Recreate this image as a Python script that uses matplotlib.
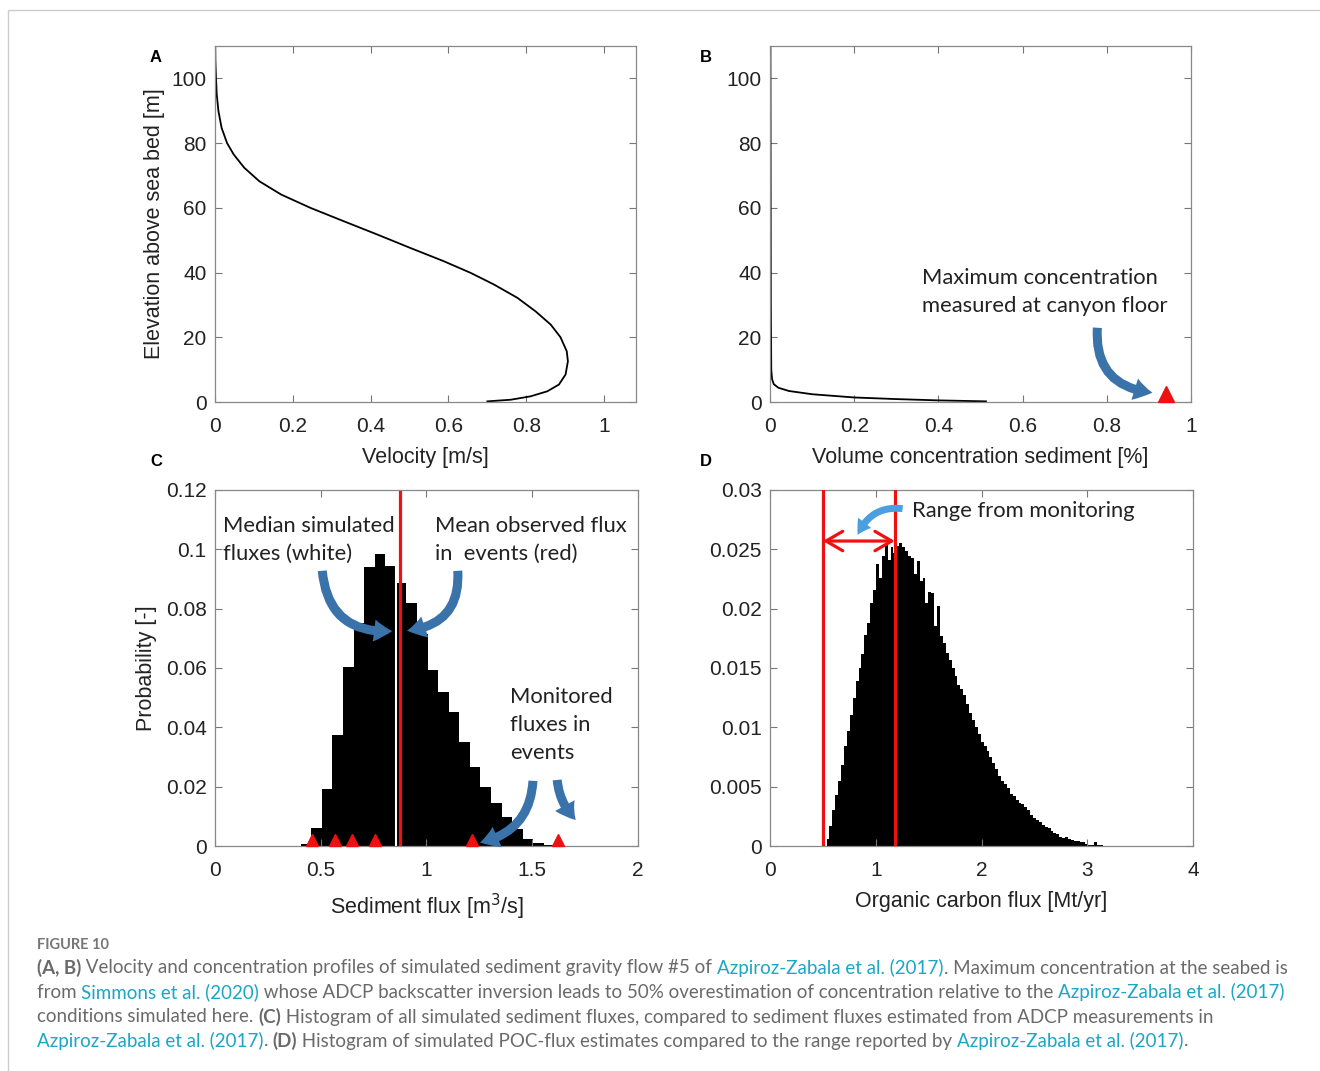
"""Figure 10 redraw: velocity / concentration profiles and flux histograms."""
import numpy as np
import matplotlib
matplotlib.use('Agg')
import matplotlib.pyplot as plt
from matplotlib.patches import FancyArrowPatch, Rectangle
from matplotlib.text import Annotation

# ---- data ----
# (A) velocity profile
elev_a = [0.2, 0.7, 1.75, 3.3, 5.4, 8.5, 12.6, 15.7, 20, 23.9, 28, 32.2,
          36.3, 39.9, 43.5, 47.6, 51.8, 55.9, 60, 64.1, 68.2, 72.4, 76.5,
          80, 84.7, 89.9, 95, 100, 105.4, 110]
vel_a = [0.700, 0.760, 0.811, 0.854, 0.884, 0.901, 0.907, 0.904, 0.888,
         0.863, 0.824, 0.777, 0.717, 0.657, 0.588, 0.502, 0.416, 0.330,
         0.245, 0.170, 0.114, 0.075, 0.048, 0.031, 0.017, 0.0088, 0.0045,
         0.0026, 0.001, 0.0005]
# (B) concentration profile + measured maximum
elev_b = [0.2, 0.5, 0.9, 1.4, 2.4, 3.4, 4.4, 5.5, 7, 10, 30, 110]
conc_b = [0.513, 0.40, 0.30, 0.20, 0.10, 0.045, 0.02, 0.009, 0.005, 0.003,
          0.002, 0.001]
conc_max = 0.94
conc_max_z = 2.5
# (C) sediment flux histogram (probability per 0.05 bin)
c_start, c_width = 0.405, 0.05
c_prob = [0.0006, 0.006, 0.0191, 0.0374, 0.0602, 0.0751, 0.0939, 0.0984,
          0.0945, 0.0888, 0.0818, 0.0715, 0.0593, 0.052, 0.0453, 0.0352,
          0.0267, 0.020, 0.0144, 0.0099, 0.0056, 0.0022, 0.0011, 0.0002]
c_median = 0.854
c_mean_obs = 0.875
c_events = [0.457, 0.567, 0.646, 0.756, 1.214, 1.623]
# (D) organic carbon flux histogram
d_start, d_width = 0.535, 0.0275
d_prob = [0.0006, 0.0017, 0.0030, 0.0043, 0.0055, 0.0068, 0.0084, 0.0097,
          0.0110, 0.0125, 0.0139, 0.0150, 0.0162, 0.0178, 0.0188, 0.0205,
          0.0216, 0.0238, 0.0226, 0.0244, 0.0254, 0.0241, 0.0252, 0.0247,
          0.0253, 0.0255, 0.0252, 0.0249, 0.0244, 0.0243, 0.0229, 0.0240,
          0.0223, 0.0226, 0.0205, 0.0214, 0.0213, 0.0185, 0.0202, 0.0177,
          0.0171, 0.0163, 0.0157, 0.0150, 0.0143, 0.0136, 0.0132, 0.0127,
          0.0120, 0.0112, 0.0106, 0.0100, 0.0094, 0.0088, 0.0084, 0.0080,
          0.0075, 0.0070, 0.0065, 0.0059, 0.0055, 0.0052, 0.0049, 0.0044,
          0.0042, 0.0039, 0.0036, 0.0035, 0.0033, 0.0030, 0.0026, 0.0024,
          0.0022, 0.0020, 0.0018, 0.0016, 0.0015, 0.0013, 0.0011, 0.0010,
          0.0008, 0.0007, 0.0008, 0.0006, 0.0005, 0.0004, 0.0004, 0.0003,
          0.0003, 0.0002, 0.0001, 0.0001, 0.0003, 0.0001, 0.00005]
d_range = [0.5, 1.18]

RED = '#ee1111'
BLUE = '#3a72aa'
LBLUE = '#4a9fe0'
TICKF = 'Liberation Sans'
ANNF = 'Lato'

W, H = 1320, 1071
fig = plt.figure(figsize=(W / 100, H / 100), dpi=100)


def px_axes(l, t, r, b):
    return fig.add_axes([l / W, 1 - b / H, (r - l) / W, (b - t) / H])


def style(ax):
    ax.tick_params(direction='in', top=True, right=True, length=5,
                   width=0.8, color='#777777', labelsize=15,
                   labelcolor='#222222')
    ax.tick_params(axis='x', pad=11)
    ax.tick_params(axis='y', pad=6)
    for s in ax.spines.values():
        s.set_color('#888888')
        s.set_linewidth(0.9)
    for lab in ax.get_xticklabels() + ax.get_yticklabels():
        lab.set_fontfamily(TICKF)


def arrow(ax, p0, p1, rad, color=BLUE, hw=16, hl=13, tw=6.5):
    ax.add_patch(FancyArrowPatch(
        p0, p1, connectionstyle=f'arc3,rad={rad}',
        arrowstyle=f'simple,head_width={hw},head_length={hl},tail_width={tw}',
        mutation_scale=1, color=color, lw=0, zorder=6, clip_on=False))


lab_kw = dict(fontsize=15.5, fontfamily=TICKF, color='#222222')
ann_kw = dict(fontsize=15.8, fontfamily=ANNF, color='#222222',
              linespacing=1.5)

# ---- A ----
axA = px_axes(215, 46, 636, 402)
axA.plot(vel_a, elev_a, color='black', lw=1.3)
axA.set_xlim(0, 1.082)
axA.set_ylim(0, 110)
axA.set_xticks([0, 0.2, 0.4, 0.6, 0.8, 1])
axA.set_xticklabels(['0', '0.2', '0.4', '0.6', '0.8', '1'])
axA.set_yticks(range(0, 101, 20))
axA.set_xlabel('Velocity [m/s]', labelpad=8, **lab_kw)
axA.set_ylabel('Elevation above sea bed [m]', labelpad=5, **lab_kw)
style(axA)

# ---- B ----
axB = px_axes(770, 46, 1191, 402)
axB.plot(conc_b, elev_b, color='black', lw=1.3)
axB.plot([conc_max], [conc_max_z], marker='^', ms=12, color=RED, ls='none',
         clip_on=False, zorder=5)
axB.set_xlim(0, 1)
axB.set_ylim(0, 110)
axB.set_xticks([0, 0.2, 0.4, 0.6, 0.8, 1])
axB.set_xticklabels(['0', '0.2', '0.4', '0.6', '0.8', '1'])
axB.set_yticks(range(0, 101, 20))
axB.set_xlabel('Volume concentration sediment [%]', labelpad=8, **lab_kw)
axB.text(0.362, 34.0, 'Maximum concentration\nmeasured at canyon floor',
         ha='left', va='center', **ann_kw)
arrow(axB, (0.778, 23.8), (0.915, 2.8), 0.5)
style(axB)

# ---- C ----
axC = px_axes(215, 490, 638, 846)
c_edges = c_start + c_width * np.arange(len(c_prob) + 1)
axC.stairs(c_prob, c_edges, fill=True, color='black', lw=0)
axC.axvline(c_median, color='white', lw=1.5)
axC.axvline(c_mean_obs, color=RED, lw=2.3)
axC.plot(c_events, [0.002] * len(c_events), marker='^', ms=9, color=RED,
         ls='none', zorder=5, clip_on=False)
axC.set_xlim(0, 2)
axC.set_ylim(0, 0.12)
axC.set_xticks([0, 0.5, 1, 1.5, 2])
axC.set_xticklabels(['0', '0.5', '1', '1.5', '2'])
axC.set_yticks([0, 0.02, 0.04, 0.06, 0.08, 0.1, 0.12])
axC.set_yticklabels(['0', '0.02', '0.04', '0.06', '0.08', '0.1', '0.12'])
axC.set_xlabel('Sediment flux [m$^3$/s]', labelpad=8, **lab_kw)
axC.set_ylabel('Probability [-]', labelpad=6, **lab_kw)
axC.text(0.04, 0.1032, 'Median simulated\nfluxes (white)', ha='left',
         va='center', **ann_kw)
axC.text(1.04, 0.1032, 'Mean observed flux\nin  events (red)', ha='left',
         va='center', **ann_kw)
axC.text(1.395, 0.0408, 'Monitored\nfluxes in\nevents', ha='left',
         va='center', **ann_kw)
arrow(axC, (0.506, 0.0937), (0.851, 0.0725), 0.5)
arrow(axC, (1.147, 0.0937), (0.895, 0.0725), -0.5)
arrow(axC, (1.504, 0.0229), (1.24, 0.001), -0.4)
arrow(axC, (1.617, 0.0232), (1.715, 0.0081), 0.2)
style(axC)

# ---- D ----
axD = px_axes(770, 490, 1193, 846)
d_edges = d_start + d_width * np.arange(len(d_prob) + 1)
axD.stairs(d_prob, d_edges, fill=True, color='black', lw=0)
for xv in d_range:
    axD.axvline(xv, color=RED, lw=2.3, zorder=4)
axD.add_patch(FancyArrowPatch((d_range[0], 0.0257), (d_range[1], 0.0257),
                              arrowstyle='<->,head_length=12,head_width=7',
                              mutation_scale=1, color=RED, lw=2.3, zorder=5,
                              shrinkA=0, shrinkB=0))
axD.text(1.34, 0.0282, 'Range from monitoring', ha='left', va='center',
         **ann_kw)
arrow(axD, (1.28, 0.0284), (0.82, 0.0260), 0.4, color=LBLUE, hw=12, hl=10,
      tw=5)
axD.set_xlim(0, 4)
axD.set_ylim(0, 0.03)
axD.set_xticks([0, 1, 2, 3, 4])
axD.set_yticks([0, 0.005, 0.01, 0.015, 0.02, 0.025, 0.03])
axD.set_yticklabels(['0', '0.005', '0.01', '0.015', '0.02', '0.025', '0.03'])
axD.set_xlabel('Organic carbon flux [Mt/yr]', labelpad=7.5, **lab_kw)
style(axD)

# panel letters
for letter, x, y in [('A', 156, 57), ('B', 706, 57), ('C', 156, 461),
                     ('D', 706, 461)]:
    fig.text(x / W, 1 - y / H, letter, ha='center', va='center',
             fontsize=12, fontweight='bold', fontfamily=TICKF)

# page border
fig.patches.append(Rectangle((8 / W, -0.05), 1.2, 1.05 - 10 / H,
                             transform=fig.transFigure, fill=False,
                             edgecolor='#cccccc', lw=1))

# ---- caption ----
GREY = '#6a6a6a'
TEAL = '#1ba6c4'
cap_kw = dict(fontsize=13.5, fontfamily=ANNF)
fig.text(37 / W, 1 - 945 / H, 'FIGURE 10', ha='left', va='center',
         color='#777777', fontsize=10.5, fontweight='bold', fontfamily=ANNF)

AZ = 'Azpiroz-Zabala et al. (2017)'
caption = [
    [('(A, B)', GREY, 'bold'),
     (' Velocity and concentration profiles of simulated sediment gravity '
      'flow #5 of ', GREY, 'normal'),
     (AZ, TEAL, 'normal'),
     ('. Maximum concentration at the seabed is', GREY, 'normal')],
    [('from ', GREY, 'normal'), ('Simmons et al. (2020)', TEAL, 'normal'),
     (' whose ADCP backscatter inversion leads to 50% overestimation of '
      'concentration relative to the ', GREY, 'normal'),
     (AZ, TEAL, 'normal')],
    [('conditions simulated here. ', GREY, 'normal'), ('(C)', GREY, 'bold'),
     (' Histogram of all simulated sediment fluxes, compared to sediment '
      'fluxes estimated from ADCP measurements in', GREY, 'normal')],
    [(AZ, TEAL, 'normal'), ('. ', GREY, 'normal'), ('(D)', GREY, 'bold'),
     (' Histogram of simulated POC-flux estimates compared to the range '
      'reported by ', GREY, 'normal'),
     (AZ, TEAL, 'normal'), ('.', GREY, 'normal')],
]
for row, yc in zip(caption, [968, 992, 1017, 1041]):
    last = None
    for s, col, wt in row:
        if last is None:
            last = fig.text(37 / W, 1 - yc / H, s, ha='left', va='center',
                            color=col, fontweight=wt, **cap_kw)
        else:
            last = fig.add_artist(Annotation(
                s, xy=(1, 0.5), xycoords=last, ha='left', va='center',
                color=col, fontweight=wt, annotation_clip=False, **cap_kw))

fig.savefig('out.png', dpi=100)
